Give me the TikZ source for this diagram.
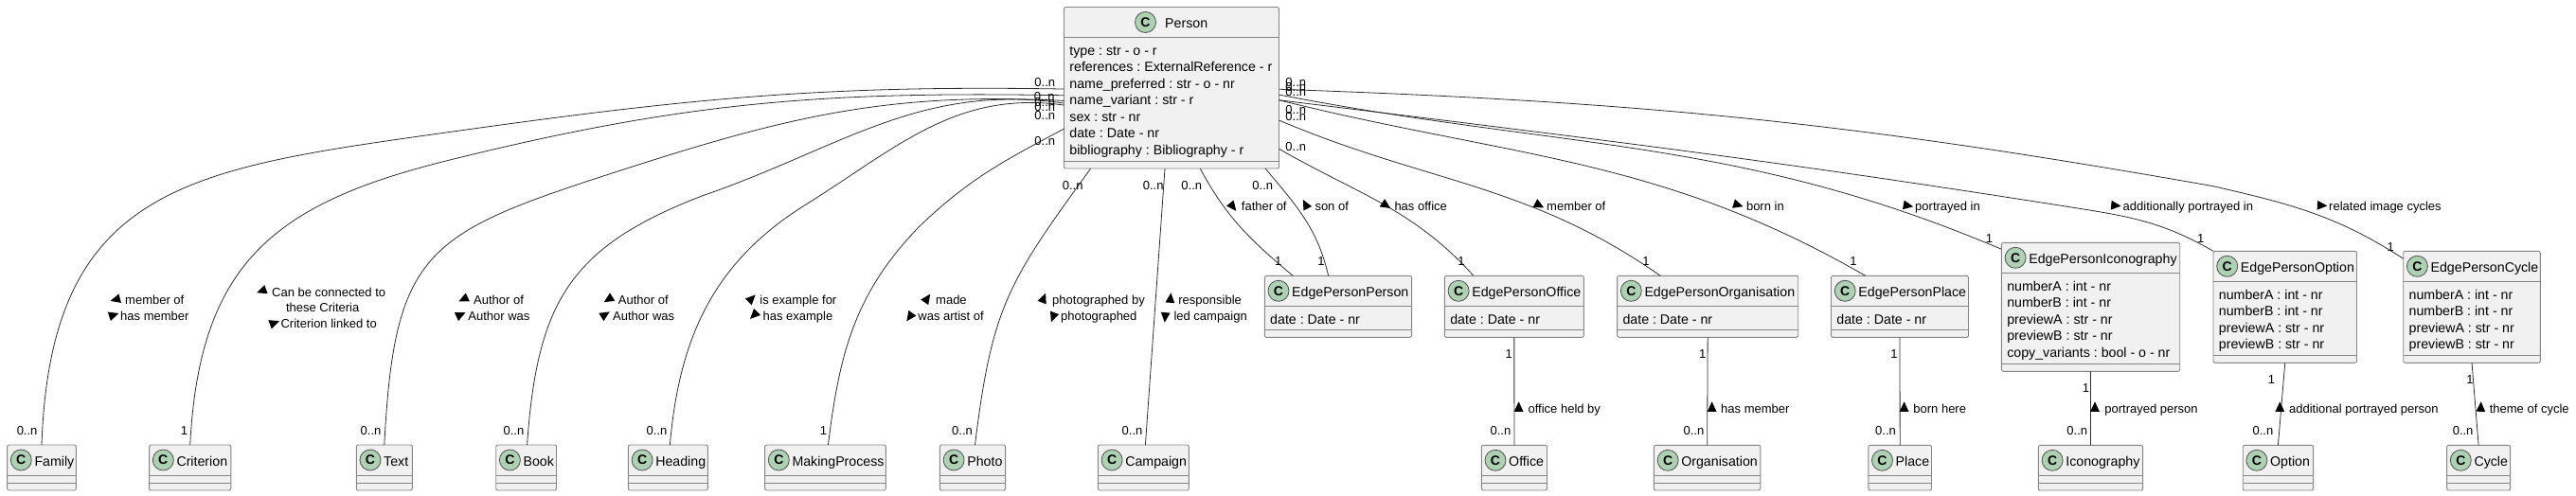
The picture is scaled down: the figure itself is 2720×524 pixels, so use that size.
\documentclass[tikz,border=0pt]{standalone}
\usepackage{fontspec}
\setmainfont{Liberation Sans}
\usetikzlibrary{shapes.geometric}
\frenchspacing
\definecolor{classfill}{HTML}{F1F1F1}
\definecolor{classedge}{HTML}{858585}
\definecolor{iconfill}{HTML}{ADD1B2}
\definecolor{linkdark}{HTML}{2E2E2E}
\tikzset{class node/.style={shape=rectangle, rounded corners=2pt, draw=classedge, fill=classfill, line width=0.9pt, inner sep=0pt, outer sep=0pt},
class rule/.style={draw=classedge, line width=0.9pt},
icon node/.style={shape=circle, draw=classedge!60!black, fill=iconfill, line width=0.8pt, minimum size=22pt, inner sep=0pt, font=\fontsize{14}{14}\selectfont\bfseries},
title node/.style={anchor=base west, inner sep=0pt, font=\fontsize{14.2}{17}\selectfont},
attr node/.style={anchor=base west, inner sep=0pt, font=\fontsize{14.2}{17}\selectfont},
card node/.style={anchor=base, inner sep=0pt, font=\fontsize{13}{15}\selectfont},
label node/.style={anchor=base west, inner sep=0pt, font=\fontsize{13}{15}\selectfont},
tri node/.style={shape=isosceles triangle, isosceles triangle apex angle=50, fill=black, minimum height=10.5pt, inner sep=0pt},
link/.style={draw=linkdark, line width=0.8pt}}
% [circle inset]{name}{title}{left}{right}{top}{bottom}{attributes}
\newcommand{\classnode}[8][14.7]{%
\pgfmathsetmacro{\classw}{#5-#4}
\pgfmathsetmacro{\classh}{#7-#6}
\node[class node, minimum width=\classw pt, minimum height=\classh pt] (#2) at ({(#4+#5)/2},{(#6+#7)/2}) {};
\draw[class rule] ([yshift=-32pt]#2.north west) -- ([yshift=-32pt]#2.north east);
\draw[class rule] ([yshift=8pt]#2.south west) -- ([yshift=8pt]#2.south east);
\node[icon node] (#2-c) at ({#4+#1},{#6+16}) {C};
\node[title node] (#2-t) at ({#4+#1+14},{#6+22}) {#3};
\if\relax\detokenize{#8}\relax\else
\foreach \attr [count=\i] in {#8} {\node[attr node] (#2-a\i) at ({#4+5.7},{#6+51+17.5*(\i-1)}) {\attr};}
\fi}
\begin{document}
\begin{tikzpicture}[x=1pt,y=-1pt]
\useasboundingbox (0,0) rectangle (2720,524);
% classes
\classnode[86]{Person}{\hspace*{6.5pt}Person}{1123.5}{1350.5}{7.5}{178}{type : str - o - r,references : ExternalReference - r,name\_preferred : str - o - nr,name\_variant : str - r,sex : str - nr,date : Date - nr,bibliography : Bibliography - r}
\classnode{Family}{Family}{7.6}{80.4}{470}{518}{}
\classnode{Criterion}{Criterion}{157.6}{243.8}{470}{518}{}
\classnode{Text}{Text}{376.3}{435.3}{470}{518}{}
\classnode{Book}{Book}{523.7}{587.5}{470}{518}{}
\classnode{Heading}{Heading}{663.4}{747.3}{470}{518}{}
\classnode{MakingProcess}{MakingProcess}{807.6}{935.3}{470}{518}{}
\classnode{Photo}{Photo}{992.4}{1061.6}{470}{518}{}
\classnode{Campaign}{Campaign}{1159.4}{1255.4}{470}{518}{}
\classnode{EdgePersonPerson}{EdgePersonPerson}{1335.3}{1490.6}{291.3}{356.3}{date : Date - nr}
\classnode{EdgePersonOffice}{EdgePersonOffice}{1525.4}{1672.3}{291.3}{356.3}{date : Date - nr}
\classnode{EdgePersonOrganisation}{EdgePersonOrganisation}{1707.6}{1898.7}{291.3}{356.3}{date : Date - nr}
\classnode{EdgePersonPlace}{EdgePersonPlace}{1933.5}{2078.5}{291.3}{356.3}{date : Date - nr}
\classnode{EdgePersonIconography}{EdgePersonIconography}{2113.4}{2301.7}{256.3}{392.3}{numberA : int - nr,numberB : int - nr,previewA : str - nr,previewB : str - nr,copy\_variants : bool - o - nr}
\classnode{EdgePersonOption}{EdgePersonOption}{2337}{2488.5}{265.3}{383.3}{numberA : int - nr,numberB : int - nr,previewA : str - nr,previewB : str - nr}
\classnode{EdgePersonCycle}{EdgePersonCycle}{2537.7}{2682.3}{265.3}{383.3}{numberA : int - nr,numberB : int - nr,previewA : str - nr,previewB : str - nr}
\classnode{Office}{Office}{1564.3}{1633.5}{470.3}{518}{}
\classnode{Organisation}{Organisation}{1746.4}{1858.9}{470.3}{518}{}
\classnode{Place}{Place}{1972.8}{2039.5}{470.3}{518}{}
\classnode{Iconography}{Iconography}{2152.4}{2262.6}{470.3}{518}{}
\classnode{Option}{Option}{2368.2}{2442.6}{470.3}{518}{}
\classnode{Cycle}{Cycle}{2583.6}{2650.6}{470.3}{518}{}
% bends of the long links
\coordinate (famBend) at (471,140);
\coordinate (criBend) at (471,170);
\coordinate (texBend) at (640,185);
\coordinate (booBend) at (742,206.7);
\coordinate (heaBend) at (850,216.7);
\coordinate (makBend) at (970,240);
\coordinate (optBend) at (2200,221);
\coordinate (cycBend) at (2337,196.7);
% links on the left
\draw [link] ([yshift=-1.3pt]Person.west) to [out = 179, in = 8] (famBend) to [out = 188, in = 88, looseness = 1.3] (Family.north);
\draw [link] ([yshift=-8pt]Person.west) to [out = 179, in = 14] (criBend) to [out = 194, in = 87, looseness = 1.2] (Criterion.north);
\draw [link] ([yshift=-13.7pt]Person.west) to [out = 177, in = 18] (texBend) to [out = 198, in = 87, looseness = 1.4] (Text.north);
\draw [link] ([yshift=-16.3pt]Person.west) to [out = 172, in = 19] (booBend) to [out = 201, in = 86, looseness = 1.2] ([xshift=1pt]Book.north);
\draw [link] ([yshift=-18.3pt]Person.west) to [out = 172, in = 32] (heaBend) to [out = 212, in = 85] ([xshift=2pt]Heading.north);
\draw [link] ([yshift=-43.3pt]Person.west) to [out = 208, in = 44] (makBend) to [out = 226, in = 83] ([xshift=3pt]MakingProcess.north);
% links at the bottom of Person
\draw [link] ([xshift=-85.3pt]Person.south) to [out = 234, in = 83, looseness = 1.2] ([xshift=2.5pt]Photo.north);
\draw [link] ([xshift=-7pt]Person.south) -- ([xshift=2pt]Campaign.north);
\draw [link] ([xshift=30.3pt]Person.south) to [out = -62, in = 140] ([xshift=-47.8pt]EdgePersonPerson.north);
\draw [link] ([xshift=99pt]Person.south) to [out = -50, in = 103] ([xshift=-10.3pt]EdgePersonPerson.north);
% links on the right
\draw [link] ([yshift=-64.5pt]Person.east) to [out = -30, in = 132] ([xshift=-43pt]EdgePersonOffice.north);
\draw [link] ([yshift=-34.3pt]Person.east) to [out = -23, in = 145] ([xshift=-50pt]EdgePersonOrganisation.north);
\draw [link] ([yshift=-13pt]Person.east) to [out = -14, in = 150] ([xshift=-36.4pt]EdgePersonPlace.north);
\draw [link] ([yshift=-7.3pt]Person.east) to [out = -11, in = 157] ([yshift=61pt]EdgePersonIconography.west);
\draw [link] ([yshift=-13pt]Person.east) to [out = -7, in = 171] (optBend) to [out = -9, in = 150] (EdgePersonOption.north west);
\draw [link] ([yshift=-1.5pt]Person.east) to [out = -2, in = 170] (cycBend) to [out = -13, in = 147] ([yshift=51pt]EdgePersonCycle.west);
% links below the edge classes
\draw [link] (EdgePersonOffice.south) -- (Office.north);
\draw [link] (EdgePersonOrganisation.south) -- (Organisation.north);
\draw [link] (EdgePersonPlace.south) -- (Place.north);
\draw [link] (EdgePersonIconography.south) -- (Iconography.north);
\draw [link] (EdgePersonOption.south) -- (Option.north);
\draw [link] (EdgePersonCycle.south) -- (Cycle.north);
% cardinalities
\foreach \x/\y/\txt [count=\i] in {1103.3/91.7/0..n,1102.8/106.7/0..n,1103.3/113/0..n,1103.3/118/0..n,1103.3/126.7/0..n,1103.3/153.3/0..n,
1132.7/200.7/0..n,1217.7/200.7/0..n,1258.3/200.7/0..n,1333.3/200.7/0..n,
1368.3/91.7/0..n,1368.3/96.6/0..n,1368.3/102/0..n,1368.3/121/0..n,1368.3/127.7/0..n,1368.3/160/0..n,
28.6/459.3/0..n,194.6/459.3/1,391.5/459.3/0..n,542.4/459.3/0..n,693.5/459.3/0..n,869.6/459.3/1,1016/459.3/0..n,1195.5/459.3/0..n,
1349.6/280/1,1395/280/1,1542.9/280/1,1738/280/1,1957/280/1,2100.5/256.7/1,2323.7/256.7/1,2524.3/265.7/1,
1593.3/378.3/1,1584.4/459.7/0..n,1797.8/378.3/1,1788.4/459.7/0..n,2000/378.3/1,1991/459.7/0..n,
2202.5/414.3/1,2193.3/459.7/0..n,2398.5/405/1,2389.4/459.7/0..n,2607.9/405/1,2600.6/459.7/0..n}
{\node[card node] (card\i) at (\x,\y) {\txt};}
% link labels
\foreach \x/\y/\txt [count=\i] in {132/321.7/member of,127/338.7/has member,287/313.3/Can be connected to,301.8/329.7/these Criteria,296.4/346.3/Criterion linked to,
500/321.7/Author of,494.2/338.7/Author was,652.7/321.7/Author of,646.9/338.7/Author was,802.2/321.7/is example for,805.4/338.7/has example,
988/321.7/made,969.2/338.7/was artist of,1111/321.7/photographed by,1120/338.7/photographed,1244.2/321.7/responsible,1239.3/338.7/led campaign,
1310.7/222.7/father of,1388.3/222.7/son of,1472.3/222.7/has office,1633/222.7/member of,1843.8/222.7/born in,2022/222.7/portrayed in,2241.5/222.7/additionally portrayed in,2459/222.7/related image cycles,
1613.4/436.7/office held by,1817/436.7/has member,2020.2/436.7/born here,2222.2/436.7/portrayed person,2416.9/436.7/additional portrayed person,2628.6/436.7/theme of cycle}
{\node[label node] (label\i) at (\x,\y) {\txt};}
% direction marks
\foreach \x/\y/\r [count=\i] in {123.7/316/195,118.3/333.3/18,278/306.7/200,288/341.7/20,491/315.3/205,484.8/333.3/25,644/315.3/212,637.5/333.3/32,
792.4/316.7/45,797.3/331.7/225,978/316.7/55,961.6/333.3/235,1101.3/316.7/68,1112.5/333.3/250,1235.7/316.7/85,1230.4/333.3/265,
1300.7/217/-52,1379.3/217.5/118,1462/216/-33,1623.7/216/-28,1833.5/216/-17,2012.9/217/-10,2232.3/217/-5,2450/217/-3,
1603.6/431.7/90,1807.6/431.7/90,2010.6/431.7/90,2212/431.7/90,2407.3/431.7/90,2619.4/431.7/88}
{\node[tri node, rotate=\r] (tri\i) at (\x,\y) {};}
\end{tikzpicture}
\end{document}
